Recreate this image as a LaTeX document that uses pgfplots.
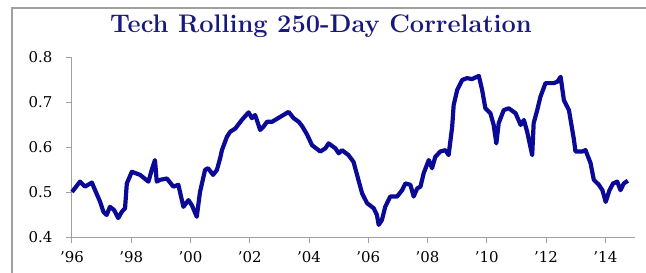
\documentclass[border=0pt]{standalone}
\usepackage{fontspec}
\setmainfont{Latin Modern Roman}
\newfontfamily\tickfont{DejaVu Serif}
\usepackage{pgfplots}
\pgfplotsset{compat=1.18}
\definecolor{linec}{RGB}{10,10,150}
\definecolor{titlec}{RGB}{25,25,125}
\definecolor{axc}{RGB}{160,160,160}
\begin{document}
\begin{tikzpicture}[x=1bp,y=1bp]
\useasboundingbox (-72,-35) rectangle (574,237);
\draw[axc,line width=1.2bp] (-60,-60) -- (-60,229) -- (600,229);
\node[titlec,font=\fontsize{25.5}{30}\selectfont\bfseries] at (249,211) {Tech Rolling 250-Day Correlation};
\begin{axis}[
  at={(0,0)}, anchor=origin,
  scale only axis, width=563bp, height=180bp,
  xmin=1996, xmax=2015, ymin=0.4, ymax=0.8,
  axis lines*=left,
  axis line style={axc,line width=1bp},
  tick style={axc,line width=1bp},
  tick align=outside,
  major tick length=6bp,
  xtick={1996,1998,...,2014},
  xticklabels={\textquoteright96,\textquoteright98,\textquoteright00,\textquoteright02,\textquoteright04,\textquoteright06,\textquoteright08,\textquoteright10,\textquoteright12,\textquoteright14},
  ytick={0.4,0.5,0.6,0.7,0.8},
  /pgf/number format/assume math mode=true,
  yticklabel style={/pgf/number format/fixed,/pgf/number format/fixed zerofill,/pgf/number format/precision=1,xshift=-10bp},
  xticklabel style={yshift=-5bp},
  tick label style={font=\fontsize{15}{18}\tickfont,text=black},
  clip=false,
]
\addplot[linec,line width=4.2bp,line join=round] table {
x y
1996.00 0.500
1996.27 0.523
1996.44 0.512
1996.67 0.521
1996.78 0.504
1996.95 0.478
1997.06 0.456
1997.17 0.449
1997.28 0.467
1997.42 0.460
1997.56 0.442
1997.68 0.456
1997.79 0.464
1997.85 0.519
1998.02 0.545
1998.30 0.538
1998.58 0.523
1998.69 0.549
1998.80 0.571
1998.86 0.523
1998.97 0.527
1999.20 0.530
1999.42 0.512
1999.59 0.516
1999.76 0.467
1999.93 0.482
2000.05 0.470
2000.21 0.445
2000.32 0.500
2000.49 0.549
2000.59 0.553
2000.76 0.538
2000.89 0.549
2001.00 0.575
2001.06 0.593
2001.23 0.623
2001.34 0.634
2001.51 0.641
2001.73 0.660
2001.96 0.677
2002.07 0.664
2002.18 0.671
2002.35 0.638
2002.46 0.645
2002.58 0.656
2002.75 0.656
2003.03 0.667
2003.31 0.678
2003.48 0.664
2003.65 0.656
2003.76 0.647
2003.93 0.628
2004.10 0.604
2004.38 0.590
2004.55 0.597
2004.66 0.608
2004.89 0.597
2005.00 0.586
2005.11 0.593
2005.33 0.582
2005.50 0.567
2005.62 0.538
2005.79 0.497
2005.96 0.475
2006.18 0.464
2006.29 0.449
2006.35 0.427
2006.46 0.438
2006.57 0.467
2006.74 0.490
2006.97 0.490
2007.14 0.504
2007.25 0.519
2007.42 0.516
2007.53 0.490
2007.65 0.508
2007.76 0.512
2007.87 0.542
2008.04 0.571
2008.15 0.553
2008.26 0.578
2008.43 0.590
2008.60 0.593
2008.71 0.582
2008.83 0.645
2008.88 0.693
2009.00 0.727
2009.17 0.749
2009.33 0.753
2009.50 0.751
2009.73 0.758
2009.84 0.727
2009.95 0.686
2010.12 0.675
2010.23 0.649
2010.32 0.608
2010.40 0.653
2010.57 0.682
2010.74 0.686
2010.97 0.675
2011.14 0.649
2011.25 0.660
2011.36 0.634
2011.53 0.582
2011.58 0.653
2011.70 0.682
2011.81 0.712
2011.98 0.742
2012.26 0.742
2012.38 0.745
2012.49 0.756
2012.60 0.704
2012.77 0.682
2012.94 0.616
2012.99 0.590
2013.22 0.590
2013.33 0.593
2013.50 0.564
2013.61 0.527
2013.78 0.516
2013.90 0.504
2014.01 0.478
2014.14 0.504
2014.26 0.519
2014.40 0.523
2014.51 0.504
2014.62 0.519
2014.76 0.525
};
\end{axis}
\end{tikzpicture}
\end{document}
